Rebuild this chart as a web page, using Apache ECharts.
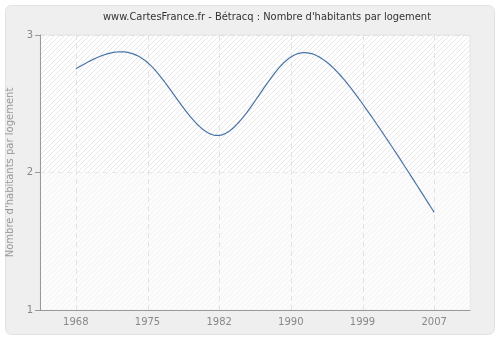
<!DOCTYPE html>
<html>
<head>
<meta charset="utf-8">
<script src="https://cdn.jsdelivr.net/npm/echarts@6/dist/echarts.min.js"></script>
<style>
  html, body { margin: 0; padding: 0; background: #fff; }
  #main { width: 500px; height: 340px; }
</style>
</head>
<body>
<div id="main"></div>
<script>
// data
const years = ['1968', '1975', '1982', '1990', '1999', '2007']
const habParLogement = [2.755, 2.80, 2.27, 2.84, 2.50, 1.71]
const yTicks = [1, 2, 3]

// light diagonal hatch used behind the plot
function hatch(bg, fg) {
  const c = document.createElement('canvas')
  c.width = 5; c.height = 5
  const g = c.getContext('2d')
  g.fillStyle = bg
  g.fillRect(0, 0, 5, 5)
  g.strokeStyle = fg
  g.lineWidth = 1
  g.beginPath()
  g.moveTo(-1, 6); g.lineTo(6, -1)
  g.moveTo(-1, 1); g.lineTo(1, -1)
  g.moveTo(4, 6); g.lineTo(6, 4)
  g.stroke()
  return { image: c, repeat: 'repeat' }
}

// natural cubic spline through pixel points
function spline(pts) {
  const n = pts.length
  const h = []
  for (let i = 0; i < n - 1; i++) h.push(pts[i + 1][0] - pts[i][0])
  const M = new Array(n).fill(0)
  const cp = new Array(n).fill(0), dp = new Array(n).fill(0)
  for (let i = 1; i < n - 1; i++) {
    const ai = h[i - 1], bi = 2 * (h[i - 1] + h[i]), ci = h[i]
    const di = 6 * ((pts[i + 1][1] - pts[i][1]) / h[i] - (pts[i][1] - pts[i - 1][1]) / h[i - 1])
    const den = bi - ai * cp[i - 1]
    cp[i] = ci / den
    dp[i] = (di - ai * dp[i - 1]) / den
  }
  for (let i = n - 2; i >= 1; i--) M[i] = dp[i] - cp[i] * M[i + 1]
  const out = []
  for (let i = 0; i < n - 1; i++) {
    const x0 = pts[i][0], y0 = pts[i][1], y1 = pts[i + 1][1], hi = h[i]
    const steps = 40
    for (let s = 0; s <= steps; s++) {
      if (i > 0 && s === 0) continue
      const t = s / steps * hi
      const A = (hi - t) / hi, B = t / hi
      const y = A * y0 + B * y1 + ((A * A * A - A) * M[i] + (B * B * B - B) * M[i + 1]) * hi * hi / 6
      out.push([x0 + t, y])
    }
  }
  return out
}

const chart = echarts.init(document.getElementById('main'))
chart.setOption({
  animation: false,
  backgroundColor: '#fff',
  textStyle: { fontFamily: 'DejaVu Sans' },
  graphic: [{
    type: 'rect', z: -10, silent: true,
    shape: { x: 5.5, y: 5.5, width: 489, height: 329, r: 6 },
    style: { fill: '#efefef', stroke: '#e2e2e2', lineWidth: 1 }
  }, {
    type: 'text', x: 267, y: 12, silent: true,
    style: {
      text: "www.CartesFrance.fr - Bétracq : Nombre d'habitants par logement",
      align: 'center', fill: '#333', fontSize: 11,
      fontFamily: 'DejaVu Sans Condensed, DejaVu Sans'
    }
  }],
  grid: {
    left: 40, right: 30, top: 35, bottom: 30,
    outerBoundsMode: 'none', containLabel: false,
    show: true, backgroundColor: hatch('#ffffff', '#e8e8e8'),
    borderColor: '#e4e4e4', borderWidth: 1
  },
  xAxis: {
    type: 'category', data: years, boundaryGap: true,
    axisLine: { lineStyle: { color: '#999' } },
    axisTick: { alignWithLabel: true, length: 4, lineStyle: { color: '#999' } },
    axisLabel: { color: '#888', fontSize: 10, margin: 7 },
    splitLine: { show: false }
  },
  yAxis: {
    type: 'value', min: 1, max: 3, interval: 1,
    name: "Nombre d'habitants par logement", nameLocation: 'middle', nameGap: 16,
    nameTextStyle: { color: '#999', fontSize: 10 },
    axisLine: { show: true, lineStyle: { color: '#999' } },
    axisTick: { show: true, length: 5, lineStyle: { color: '#999' } },
    axisLabel: { color: '#888', fontSize: 10, margin: 7, formatter: v => yTicks.includes(v) ? String(v) : '' },
    splitLine: { lineStyle: { color: '#e2e2e2', type: [5, 4] } }
  },
  series: [{
    type: 'custom',
    data: [[0, habParLogement[0]]],
    clip: true,
    renderItem: function (params, api) {
      const pts = habParLogement.map((v, i) => api.coord([i, v]))
      const cs = params.coordSys
      const y2 = api.coord([0, 2])[1], y1 = api.coord([0, 1])[1]
      const children = [{
        type: 'rect', silent: true,
        shape: { x: cs.x + 1, y: y2, width: cs.width - 1, height: y1 - y2 },
        style: { fill: 'rgba(250,250,250,0.6)' }
      }]
      years.forEach((y, i) => {
        const x = Math.round(api.coord([i, 1])[0]) + 0.5
        children.push({
          type: 'line', silent: true,
          shape: { x1: x, y1: cs.y, x2: x, y2: cs.y + cs.height },
          style: { stroke: '#e2e2e2', lineWidth: 1, lineDash: [5, 4] }
        })
      })
      children.push({
        type: 'polyline',
        shape: { points: spline(pts) },
        style: { stroke: '#4a74a8', lineWidth: 1.2, fill: null }
      })
      return { type: 'group', children: children }
    }
  }]
})
</script>
</body>
</html>
